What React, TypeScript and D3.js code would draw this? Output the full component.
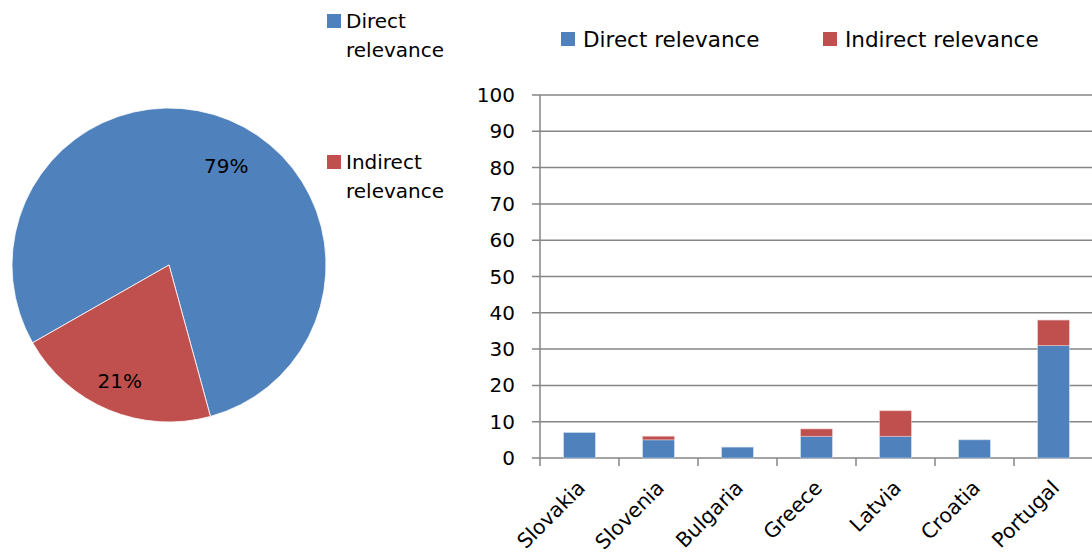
import * as d3 from 'd3';

const countries = ['Slovakia', 'Slovenia', 'Bulgaria', 'Greece', 'Latvia', 'Croatia', 'Portugal'];
const directValues = [7, 5, 3, 6, 6, 5, 31];
const indirectValues = [0, 1, 0, 2, 7, 0, 7];
const yTicks = [0, 10, 20, 30, 40, 50, 60, 70, 80, 90, 100];

const seriesNames = ['Direct relevance', 'Indirect relevance'];
const pieShares = [79, 21];

const BLUE = '#4F81BD';
const RED = '#C0504D';
const GRID = '#868686';
const FONT = 'DejaVu Sans';

const WIDTH = 1092;
const HEIGHT = 554;

const PIE = { cx: 169, cy: 265, r: 157 };
const PLOT = { left: 540, right: 1093, top: 95, bottom: 458 };

export default function App() {
    // pie, rotated so the small slice sits bottom-left like the original
    const rot = (-119.7 * Math.PI) / 180;
    const pie = d3
        .pie<number>()
        .sort(null)
        .startAngle(rot)
        .endAngle(rot + 2 * Math.PI)(pieShares);
    const arc = d3.arc<any>().innerRadius(0).outerRadius(PIE.r);
    const labelArc = d3.arc<any>().innerRadius(118).outerRadius(118);
    // excel's "best fit" doesn't sit exactly on the centroid
    const labelNudge = [
        [12, 10],
        [-4, 7],
    ];

    const x = d3
        .scaleBand()
        .domain(countries)
        .range([PLOT.left, PLOT.right])
        .paddingInner(0.6)
        .paddingOuter(0.3);
    const y = d3.scaleLinear().domain([0, 100]).range([PLOT.bottom, PLOT.top]);

    const stacked = countries.map((c, i) => ({ c, d: directValues[i], ind: indirectValues[i] }));

    return (
        <svg
            width={WIDTH}
            height={HEIGHT}
            style={{ position: 'absolute', left: 0, top: 0, background: '#fff' }}
            fontFamily={FONT}
        >
            {/* ---- pie ---- */}
            <g transform={`translate(${PIE.cx},${PIE.cy})`}>
                {pie.map((p, i) => (
                    <path key={i} d={arc(p) as string} fill={i === 0 ? BLUE : RED} stroke="#fff" strokeWidth={0.8} />
                ))}
                {pie.map((p, i) => {
                    const [lx, ly] = labelArc.centroid(p);
                    return (
                        <text
                            key={i}
                            x={lx + labelNudge[i][0]}
                            y={ly + labelNudge[i][1]}
                            textAnchor="middle"
                            dominantBaseline="central"
                            fontSize={20}
                            fill="#000"
                        >
                            {p.data}%
                        </text>
                    );
                })}
            </g>

            {/* pie legend, wrapped over two lines */}
            {seriesNames.map((name, i) => {
                const top = i === 0 ? 14 : 155;
                const words = name.split(' ');
                return (
                    <g key={name}>
                        <rect x={327} y={top} width={14} height={14} fill={i === 0 ? BLUE : RED} />
                        <text x={346} y={top + 14} fontSize={20} fill="#000">
                            {words[0]}
                        </text>
                        <text x={346} y={top + 43} fontSize={20} fill="#000">
                            {words[1]}
                        </text>
                    </g>
                );
            })}

            {/* ---- bar legend ---- */}
            {seriesNames.map((name, i) => {
                const lx = i === 0 ? 561 : 823;
                return (
                    <g key={name}>
                        <rect x={lx} y={32} width={14} height={14} fill={i === 0 ? BLUE : RED} />
                        <text x={lx + 22} y={47} fontSize={21.5} fill="#000">
                            {name}
                        </text>
                    </g>
                );
            })}

            {/* ---- grid + y axis ---- */}
            {yTicks.map((t) => (
                <g key={t}>
                    <line x1={PLOT.left - 8} x2={PLOT.right} y1={y(t)} y2={y(t)} stroke={GRID} strokeWidth={1.5} />
                    <text x={515} y={y(t)} textAnchor="end" dominantBaseline="central" fontSize={20} fill="#000">
                        {t}
                    </text>
                </g>
            ))}
            <line x1={PLOT.left} x2={PLOT.left} y1={PLOT.top} y2={PLOT.bottom} stroke={GRID} strokeWidth={1.5} />
            {d3.range(countries.length + 1).map((i) => {
                const tx = PLOT.left + i * x.step();
                return <line key={i} x1={tx} x2={tx} y1={PLOT.bottom} y2={PLOT.bottom + 8} stroke={GRID} strokeWidth={1.5} />;
            })}

            {/* ---- stacked bars ---- */}
            {stacked.map((s) => {
                const bx = x(s.c) ?? 0;
                const bw = x.bandwidth();
                return (
                    <g key={s.c}>
                        <rect x={bx} y={y(s.d)} width={bw} height={y(0) - y(s.d)} fill={BLUE} stroke="#c6d6ea" strokeWidth={0.6} />
                        {s.ind > 0 && (
                            <rect
                                x={bx}
                                y={y(s.d + s.ind)}
                                width={bw}
                                height={y(s.d) - y(s.d + s.ind)}
                                fill={RED}
                                stroke="#e8c0bf"
                                strokeWidth={0.6}
                            />
                        )}
                    </g>
                );
            })}

            {/* ---- category labels, slanted ---- */}
            {countries.map((c) => {
                const cx = (x(c) ?? 0) + x.bandwidth() / 2;
                return (
                    <text
                        key={c}
                        transform={`translate(${cx + 7},${489}) rotate(-45)`}
                        textAnchor="end"
                        fontSize={20.5}
                        fill="#000"
                    >
                        {c}
                    </text>
                );
            })}
        </svg>
    );
}
